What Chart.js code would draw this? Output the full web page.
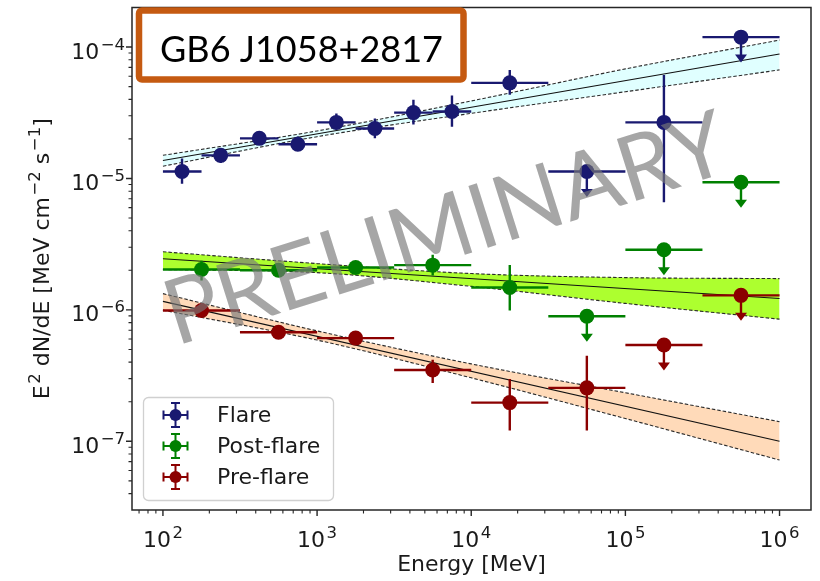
<!DOCTYPE html>
<html lang="en">
<head>
<meta charset="UTF-8">
<title>GB6 J1058+2817 SED</title>
<script src="https://cdn.jsdelivr.net/npm/chart.js@4.4.1/dist/chart.umd.min.js"></script>
<style>
  html, body { margin: 0; padding: 0; background: #fff; }
  #wrap { width: 820px; height: 581px; }
</style>
</head>
<body>
<div id="wrap"><canvas id="sed" width="820" height="581"></canvas></div>
<script>
// --- flare: quarter-decade bins up to 10 GeV, half-decade above [MeV]
const flareE   = [133, 237, 422, 750, 1334, 2371, 4217, 7499, 17783, 56234, 177828, 562341];
const flareElo = [100, 178, 316, 562, 1000, 1778, 3162, 5623, 10000, 31623, 100000, 316228];
const flareEhi = [178, 316, 562, 1000, 1778, 3162, 5623, 10000, 31623, 100000, 316228, 1000000];
const flareY   = [1.13e-5, 1.50e-5, 2.02e-5, 1.82e-5, 2.67e-5, 2.40e-5, 3.17e-5, 3.23e-5, 5.34e-5, 1.13e-5, 2.67e-5, 1.19e-4];
const flareYlo = [9.1e-6, 1.31e-5, 1.82e-5, 1.67e-5, 2.36e-5, 2.02e-5, 2.57e-5, 2.48e-5, 4.34e-5, null, 6.6e-6, null];
const flareYhi = [1.42e-5, 1.69e-5, 2.28e-5, 2.09e-5, 3.12e-5, 2.86e-5, 3.98e-5, 4.27e-5, 6.7e-5, null, 6.13e-5, null];
const flareUL  = [0, 0, 0, 0, 0, 0, 0, 0, 0, 1, 0, 1];

// --- post-flare / pre-flare: half-decade bins
const halfE   = [178, 562, 1778, 5623, 17783, 56234, 177828, 562341];
const halfElo = [100, 316, 1000, 3162, 10000, 31623, 100000, 316228];
const halfEhi = [316, 1000, 3162, 10000, 31623, 100000, 316228, 1000000];

const postY   = [2.03e-6, 2.0e-6, 2.10e-6, 2.19e-6, 1.48e-6, 8.95e-7, 2.87e-6, 9.37e-6];
const postYlo = [1.67e-6, 1.85e-6, 1.89e-6, 1.83e-6, 9.9e-7, null, null, null];
const postYhi = [2.37e-6, 2.15e-6, 2.33e-6, 2.63e-6, 2.2e-6, null, null, null];
const postUL  = [0, 0, 0, 0, 0, 1, 1, 1];

const preY   = [9.9e-7, 6.76e-7, 6.1e-7, 3.49e-7, 1.97e-7, 2.55e-7, 5.4e-7, 1.29e-6];
const preYlo = [8.95e-7, 6.2e-7, 5.7e-7, 2.78e-7, 1.21e-7, 1.21e-7, null, null];
const preYhi = [1.12e-6, 7.2e-7, 6.4e-7, 4.17e-7, 2.98e-7, 4.47e-7, null, null];
const preUL  = [0, 0, 0, 0, 0, 0, 1, 1];

// --- power-law fits and their 1-sigma butterflies
const fitE  = [100, 1000000];
const bandE = [100, 1000, 10000, 100000, 1000000];
const flareFit = [1.37e-5, 8.85e-5];
const flareUp  = [1.50e-5, 2.30e-5, 3.89e-5, 6.82e-5, 1.13e-4];
const flareDn  = [1.24e-5, 2.08e-5, 3.13e-5, 4.57e-5, 6.70e-5];
const postFit  = [2.45e-6, 1.22e-6];
const postUp   = [2.77e-6, 2.25e-6, 1.89e-6, 1.76e-6, 1.73e-6];
const postDn   = [2.03e-6, 1.92e-6, 1.51e-6, 1.12e-6, 8.5e-7];
const preFit   = [1.16e-6, 1.0e-7];
const preUp    = [1.33e-6, 6.92e-7, 3.88e-7, 2.34e-7, 1.41e-7];
const preDn    = [9.95e-7, 5.89e-7, 3.04e-7, 1.49e-7, 7.2e-8];

// --- axes: major ticks are powers of ten, labels are 10^exp
const xTickVals = [1e2, 1e3, 1e4, 1e5, 1e6];
const xTickExp  = ['2', '3', '4', '5', '6'];
const yTickVals = [1e-7, 1e-6, 1e-5, 1e-4];
const yTickExp  = ['−7', '−6', '−5', '−4'];
const X_MIN = 63, X_MAX = 1.6e6;
const Y_MIN = 3.06e-8, Y_MAX = 2.0e-4;

const seriesNames = ['Flare', 'Post-flare', 'Pre-flare'];
const seriesColors = ['#191970', '#008000', '#8b0000'];
const bandColors = ['#e0ffff', '#adff2f', '#ffdab9'];

const UL_DROP = 0.64;   // arrow tip of an upper limit, as fraction of the limit
const FONT = "'DejaVu Sans', sans-serif";
const BASE = 22, SUP = 16.5, RAISE = 9;
const INK = '#1a1a1a';

function minorTicks(min, max) {
  const out = [];
  for (let n = Math.floor(Math.log10(min)); n <= Math.ceil(Math.log10(max)); n++) {
    for (let k = 2; k <= 9; k++) {
      const v = k * Math.pow(10, n);
      if (v > min && v < max) out.push(v);
    }
  }
  return out;
}

// text with superscript runs, y is the baseline
function drawMath(ctx, parts, x, y, align) {
  let w = 0;
  parts.forEach(p => {
    ctx.font = (p.sup ? SUP : BASE) + 'px ' + FONT;
    p.w = ctx.measureText(p.t).width + (p.sup ? 1.5 : 0);
    w += p.w;
  });
  let cx = align === 'right' ? x - w : align === 'center' ? x - w / 2 : x;
  ctx.textAlign = 'left';
  ctx.textBaseline = 'alphabetic';
  parts.forEach(p => {
    ctx.font = (p.sup ? SUP : BASE) + 'px ' + FONT;
    ctx.fillText(p.t, cx + (p.sup ? 1.5 : 0), p.sup ? y - RAISE : y);
    cx += p.w;
  });
}

function pointSet(i, E, lo, hi, Y, Ylo, Yhi, UL) {
  return {
    type: 'scatter',
    label: seriesNames[i],
    data: E.map((e, j) => ({ x: e, y: Y[j] })),
    err: E.map((e, j) => ({ xlo: lo[j], xhi: hi[j], ylo: Ylo[j], yhi: Yhi[j], ul: !!UL[j] })),
    color: seriesColors[i],
    backgroundColor: seriesColors[i],
    pointRadius: 7.5,
    pointHoverRadius: 7.5,
    borderWidth: 0,
    order: 0
  };
}

function bandSets(i, up, dn, fit) {
  const edge = {
    type: 'line', showLine: true, borderColor: '#2b2b2b', borderWidth: 1.1,
    borderDash: [3.5, 2], pointRadius: 0, cubicInterpolationMode: 'monotone', order: 2
  };
  return [
    Object.assign({}, edge, { data: bandE.map((e, j) => ({ x: e, y: dn[j] })), fill: false }),
    Object.assign({}, edge, { data: bandE.map((e, j) => ({ x: e, y: up[j] })), fill: '-1', backgroundColor: bandColors[i] }),
    { type: 'line', showLine: true, data: fitE.map((e, j) => ({ x: e, y: fit[j] })),
      borderColor: '#111', borderWidth: 1.1, pointRadius: 0, fill: false, order: 1 }
  ];
}

const datasets = [
  pointSet(0, flareE, flareElo, flareEhi, flareY, flareYlo, flareYhi, flareUL),
  pointSet(1, halfE, halfElo, halfEhi, postY, postYlo, postYhi, postUL),
  pointSet(2, halfE, halfElo, halfEhi, preY, preYlo, preYhi, preUL),
  ...bandSets(0, flareUp, flareDn, flareFit),
  ...bandSets(1, postUp, postDn, postFit),
  ...bandSets(2, preUp, preDn, preFit)
];

// error bars and upper-limit arrows, drawn just under each point set
const errorBars = {
  id: 'errorBars',
  beforeDatasetDraw(chart, args) {
    const ds = chart.data.datasets[args.index];
    if (!ds.err) return;
    const { x: xs, y: ys } = chart.scales;
    const ctx = chart.ctx;
    ctx.save();
    ctx.strokeStyle = ds.color;
    ctx.fillStyle = ds.color;
    ctx.lineWidth = 2.4;
    ds.err.forEach((e, j) => {
      const px = xs.getPixelForValue(ds.data[j].x);
      const py = ys.getPixelForValue(ds.data[j].y);
      ctx.beginPath();
      ctx.moveTo(xs.getPixelForValue(e.xlo), py);
      ctx.lineTo(xs.getPixelForValue(e.xhi), py);
      if (e.ul) {
        const tip = ys.getPixelForValue(ds.data[j].y * UL_DROP);
        ctx.moveTo(px, py);
        ctx.lineTo(px, tip - 6);
        ctx.stroke();
        ctx.beginPath();
        ctx.moveTo(px - 6, tip - 8);
        ctx.lineTo(px + 6, tip - 8);
        ctx.lineTo(px, tip);
        ctx.closePath();
        ctx.fill();
      } else {
        ctx.moveTo(px, ys.getPixelForValue(e.ylo));
        ctx.lineTo(px, ys.getPixelForValue(e.yhi));
        ctx.stroke();
      }
    });
    ctx.restore();
  }
};

// axes box, outward ticks on the left and bottom, power-of-ten labels
const frame = {
  id: 'frame',
  afterDatasetsDraw(chart) {
    const { ctx, chartArea: a, scales: { x, y } } = chart;
    ctx.save();
    ctx.strokeStyle = '#262626';
    ctx.lineWidth = 1.5;
    ctx.strokeRect(a.left, a.top, a.right - a.left, a.bottom - a.top);
    const xtick = (vals, len, w) => {
      ctx.lineWidth = w;
      ctx.beginPath();
      vals.forEach(v => {
        const p = x.getPixelForValue(v);
        ctx.moveTo(p, a.bottom); ctx.lineTo(p, a.bottom + len);
      });
      ctx.stroke();
    };
    const ytick = (vals, len, w) => {
      ctx.lineWidth = w;
      ctx.beginPath();
      vals.forEach(v => {
        const p = y.getPixelForValue(v);
        ctx.moveTo(a.left, p); ctx.lineTo(a.left - len, p);
      });
      ctx.stroke();
    };
    xtick(xTickVals, 6, 1.4);
    xtick(minorTicks(X_MIN, X_MAX), 3.5, 1.1);
    ytick(yTickVals, 6, 1.4);
    ytick(minorTicks(Y_MIN, Y_MAX), 3.5, 1.1);

    ctx.fillStyle = INK;
    x.ticks.forEach((t, i) => {
      drawMath(ctx, [{ t: '10' }, { t: xTickExp[i], sup: true }], x.getPixelForValue(t.value), a.bottom + 37, 'center');
    });
    y.ticks.forEach((t, i) => {
      drawMath(ctx, [{ t: '10' }, { t: yTickExp[i], sup: true }], a.left - 7, y.getPixelForValue(t.value) + 11.5, 'right');
    });

    // y axis title, reading upwards
    ctx.save();
    ctx.translate(49, (a.top + a.bottom) / 2);
    ctx.rotate(-Math.PI / 2);
    drawMath(ctx, [
      { t: 'E' }, { t: '2', sup: true }, { t: ' dN/dE [MeV cm' }, { t: '−2', sup: true },
      { t: ' s' }, { t: '−1', sup: true }, { t: ']' }
    ], 0, 0, 'center');
    ctx.restore();
    ctx.restore();
  }
};

function drawLegend(ctx) {
  ctx.save();
  ctx.beginPath();
  ctx.roundRect(143.5, 397.5, 190, 103, 5);
  ctx.fillStyle = 'rgba(255,255,255,0.85)';
  ctx.fill();
  ctx.strokeStyle = '#d0d0d0';
  ctx.lineWidth = 1.3;
  ctx.stroke();
  const rows = [415, 446, 477];
  const cx = 175.5;
  seriesNames.forEach((name, i) => {
    const cy = rows[i];
    ctx.strokeStyle = seriesColors[i];
    ctx.fillStyle = seriesColors[i];
    ctx.lineWidth = 2;
    ctx.beginPath();
    ctx.moveTo(cx - 12, cy); ctx.lineTo(cx + 12, cy);
    ctx.moveTo(cx - 12, cy - 4.5); ctx.lineTo(cx - 12, cy + 4.5);
    ctx.moveTo(cx + 12, cy - 4.5); ctx.lineTo(cx + 12, cy + 4.5);
    ctx.moveTo(cx, cy - 12); ctx.lineTo(cx, cy + 12);
    ctx.moveTo(cx - 4.5, cy - 12); ctx.lineTo(cx + 4.5, cy - 12);
    ctx.moveTo(cx - 4.5, cy + 12); ctx.lineTo(cx + 4.5, cy + 12);
    ctx.stroke();
    ctx.beginPath();
    ctx.arc(cx, cy, 6, 0, Math.PI * 2);
    ctx.fill();
    ctx.fillStyle = INK;
    ctx.font = '22px ' + FONT;
    ctx.textBaseline = 'middle';
    ctx.textAlign = 'left';
    ctx.fillText(name, 217, cy + 1);
  });
  ctx.restore();
}

function fitFont(ctx, text, family, width) {
  ctx.font = '100px ' + family;
  return 100 * width / ctx.measureText(text).width;
}

const overlay = {
  id: 'overlay',
  afterDraw(chart) {
    const ctx = chart.ctx;
    drawLegend(ctx);

    // PRELIMINARY stamp
    ctx.save();
    const wm = 'PRELIMINARY';
    const size = fitFont(ctx, wm, 'Lato, sans-serif', 585);
    ctx.translate(176, 346);
    ctx.rotate(-17.5 * Math.PI / 180);
    ctx.font = size + 'px Lato, sans-serif';
    ctx.fillStyle = 'rgba(120,120,120,0.66)';
    ctx.textAlign = 'left';
    ctx.textBaseline = 'alphabetic';
    ctx.fillText(wm, 0, 0);
    ctx.restore();

    // source name box
    ctx.save();
    ctx.beginPath();
    ctx.roundRect(139, 10.5, 324.5, 69, 3);
    ctx.fillStyle = '#fff';
    ctx.fill();
    ctx.strokeStyle = '#c55a11';
    ctx.lineWidth = 6.5;
    ctx.stroke();
    const name = 'GB6 J1058+2817';
    const ts = fitFont(ctx, name, 'Lato, sans-serif', 283);
    ctx.font = ts + 'px Lato, sans-serif';
    ctx.fillStyle = '#000';
    ctx.textAlign = 'center';
    ctx.textBaseline = 'alphabetic';
    ctx.fillText(name, 301.5, 62);
    ctx.restore();
  }
};

new Chart(document.getElementById('sed'), {
  type: 'scatter',
  data: { datasets },
  options: {
    responsive: false,
    animation: false,
    events: [],
    layout: { padding: { top: 5, right: 9, left: 0, bottom: 0 } },
    scales: {
      x: {
        type: 'logarithmic',
        min: X_MIN, max: X_MAX,
        afterFit: s => { s.height = 71; },
        afterBuildTicks: s => { s.ticks = xTickVals.map(v => ({ value: v })); },
        grid: { display: false },
        border: { display: false },
        ticks: { display: false, autoSkip: false },
        title: {
          display: true, text: 'Energy [MeV]', color: INK,
          font: { family: FONT, size: 22 }, padding: { top: 0, bottom: 3 }
        }
      },
      y: {
        type: 'logarithmic',
        min: Y_MIN, max: Y_MAX,
        afterFit: s => { s.width = 132; },
        afterBuildTicks: s => { s.ticks = yTickVals.map(v => ({ value: v })); },
        grid: { display: false },
        border: { display: false },
        ticks: { display: false, autoSkip: false }
      }
    },
    plugins: {
      legend: { display: false },
      tooltip: { enabled: false },
      filler: { drawTime: 'beforeDatasetsDraw' }
    }
  },
  plugins: [errorBars, frame, overlay]
});
</script>
</body>
</html>
